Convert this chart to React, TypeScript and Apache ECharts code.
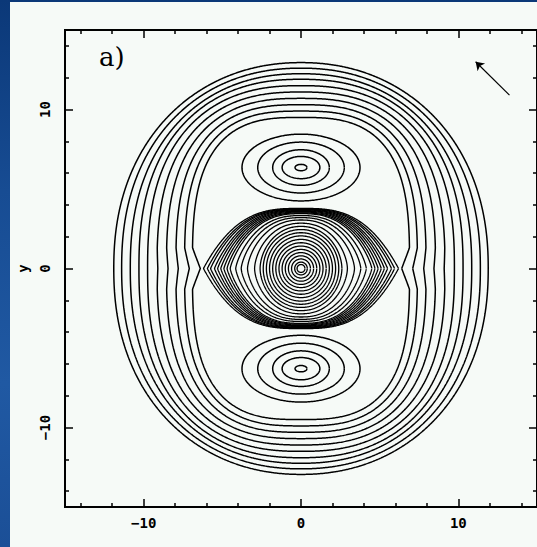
import React, { useEffect, useRef } from "react";
import * as echarts from "echarts";

// axes
const axisMin = -15;
const axisMax = 15;
const majorTicks = [-10, 0, 10];
const minorTicks = [-14, -12, -8, -6, -4, -2, 2, 4, 6, 8, 12, 14];
const tickLabels = [-10, 0, 10];

// outer ring contours (half-width at y=0, half-height at x=0, shape exponents, inner notch at y=0)
const ringHalfHeight = [12.95, 12.6, 12.25, 11.9, 11.5, 11.1, 10.7, 10.3, 9.9, 9.5];
const ringHalfWidth = [11.9, 11.4, 10.85, 10.3, 9.75, 9.15, 8.55, 7.95, 7.4, 6.9];
const ringExpX = [2.1, 2.15, 2.2, 2.3, 2.4, 2.5, 2.6, 2.7, 2.8, 2.9];
const ringExpY = [2.2, 2.25, 2.3, 2.4, 2.5, 2.6, 2.7, 2.8, 2.9, 3.0];
const ringNotch = [0, 0, 0, 0, 0, 0.05, 0.1, 0.15, 0.3, 0.5];

// the two off-centre lobes
const lobeCentreY = [6.35, -6.3];
const lobeHalfWidth = [3.75, 2.75, 1.8, 1.2, 0.38];
const lobeHalfHeight = [2.1, 1.6, 1.12, 0.7, 0.2];

// central lens ("eye") contours
const eyeHalfWidth = [6.2, 5.95, 5.75, 5.5, 5.3, 5.1, 4.9, 4.7, 4.5, 4.15, 3.8, 3.4, 2.95, 2.6, 2.4, 2.2, 2.0, 1.8, 1.6, 1.4, 1.2, 1.0, 0.8, 0.6, 0.4, 0.25];
const eyeHalfHeight = [3.78, 3.75, 3.72, 3.68, 3.64, 3.6, 3.55, 3.5, 3.45, 3.33, 3.2, 3.05, 2.85, 2.65, 2.45, 2.25, 2.05, 1.83, 1.62, 1.41, 1.2, 1.0, 0.8, 0.6, 0.4, 0.25];
const eyeTip = [1, 0.95, 0.9, 0.85, 0.8, 0.75, 0.7, 0.65, 0.6, 0.5, 0.4, 0.3, 0.2, 0.1, 0, 0, 0, 0, 0, 0, 0, 0, 0, 0, 0, 0];

// arrow (tail -> head)
const arrowTail = [13.25, 10.9];
const arrowHead = [11.1, 13.0];

const panelLabel = "a)";
const yName = "y";

function superCurve(
  cx: number,
  cy: number,
  A: number,
  B: number,
  ax: number,
  by: number,
  notch = 0,
  notchWidth = 1.3,
  n = 1440
) {
  const pts: number[][] = [];
  for (let i = 0; i <= n; i++) {
    const t = (i / n) * 2 * Math.PI;
    const c = Math.cos(t);
    const s = Math.sin(t);
    let x = A * Math.sign(c) * Math.pow(Math.abs(c), ax);
    const y = B * Math.sign(s) * Math.pow(Math.abs(s), by);
    if (notch > 0) {
      const sx = c >= 0 ? 1 : -1;
      x -= sx * notch * Math.max(0, 1 - Math.abs(y) / notchWidth);
    }
    pts.push([cx + x, cy + y]);
  }
  return pts;
}

function lineSeries(data: number[][], width: number) {
  return {
    type: "line",
    xAxisIndex: 0,
    yAxisIndex: 0,
    data,
    showSymbol: false,
    symbol: "none",
    silent: true,
    smooth: false,
    lineStyle: { color: "#000", width },
    z: 3,
  };
}

const fmt = (v: number) => (v < 0 ? "\u2212" + Math.abs(v) : String(v));

function xAxisDef(position: string, ticks: number[], len: number, labels: boolean) {
  return {
    type: "value",
    position,
    min: axisMin,
    max: axisMax,
    axisLine: { show: true, onZero: false, lineStyle: { color: "#000", width: 2 } },
    axisTick: { show: true, inside: true, length: len, customValues: ticks, lineStyle: { color: "#000", width: 1.5 } },
    axisLabel: labels
      ? {
          show: true,
          customValues: tickLabels,
          formatter: fmt,
          margin: 9,
          color: "#000",
          fontFamily: "DejaVu Sans Mono",
          fontWeight: "bold",
          fontSize: 14,
        }
      : { show: false },
    splitLine: { show: false },
  };
}

function yAxisDef(position: string, ticks: number[], len: number, labels: boolean) {
  return {
    type: "value",
    position,
    min: axisMin,
    max: axisMax,
    name: labels ? yName : "",
    nameLocation: "middle",
    nameRotate: 90,
    nameGap: 26,
    nameTextStyle: { color: "#000", fontFamily: "DejaVu Sans Mono", fontWeight: "bold", fontSize: 14 },
    axisLine: { show: true, onZero: false, lineStyle: { color: "#000", width: 2 } },
    axisTick: { show: true, inside: true, length: len, customValues: ticks, lineStyle: { color: "#000", width: 1.5 } },
    axisLabel: labels
      ? {
          show: true,
          customValues: tickLabels,
          formatter: fmt,
          rotate: 90,
          margin: 13,
          color: "#000",
          fontFamily: "DejaVu Sans Mono",
          fontWeight: "bold",
          fontSize: 14,
        }
      : { show: false },
    splitLine: { show: false },
  };
}

export default function App() {
  const ref = useRef<HTMLDivElement>(null);
  useEffect(() => {
    if (!ref.current) return;
    const chart = echarts.init(ref.current, null, { renderer: "svg" });

    const series: any[] = [];
    ringHalfWidth.forEach((w, i) => {
      series.push(
        lineSeries(
          superCurve(0, 0, w, ringHalfHeight[i], 2 / ringExpX[i], 2 / ringExpY[i], ringNotch[i]),
          1.5
        )
      );
    });
    lobeCentreY.forEach((cy) => {
      lobeHalfWidth.forEach((w, i) => {
        series.push(lineSeries(superCurve(0, cy, w, lobeHalfHeight[i], 1, 1, 0, 1, 720), 1.5));
      });
    });
    eyeHalfWidth.forEach((w, i) => {
      const t = eyeTip[i];
      series.push(lineSeries(superCurve(0, 0, w, eyeHalfHeight[i], 2 / (2 + t), 1 + t, 0, 1, 900), 1.3));
    });
    series.push({
      type: "lines",
      coordinateSystem: "cartesian2d",
      xAxisIndex: 0,
      yAxisIndex: 0,
      silent: true,
      symbol: ["none", "arrow"],
      symbolSize: 8,
      lineStyle: { color: "#000", width: 1.2, opacity: 1 },
      data: [{ coords: [arrowTail, arrowHead] }],
      z: 4,
    });

    chart.setOption({
      animation: false,
      backgroundColor: "transparent",
      grid: { left: 65, top: 30, right: -4, bottom: 40, containLabel: false },
      xAxis: [
        xAxisDef("bottom", majorTicks, 8, true),
        xAxisDef("bottom", minorTicks, 4, false),
        xAxisDef("top", majorTicks, 8, false),
        xAxisDef("top", minorTicks, 4, false),
      ],
      yAxis: [
        yAxisDef("left", majorTicks, 8, true),
        yAxisDef("left", minorTicks, 4, false),
        yAxisDef("right", majorTicks, 8, false),
        yAxisDef("right", minorTicks, 4, false),
      ],
      graphic: [
        {
          type: "rect",
          silent: true,
          z: -10,
          shape: { x: 10, y: 2, width: 527, height: 545 },
          style: { fill: "#f6faf7" },
        },
        {
          type: "text",
          silent: true,
          z: 10,
          x: 99,
          y: 57,
          style: {
            text: panelLabel,
            fill: "#000",
            font: "26px 'DejaVu Serif'",
            textAlign: "left",
            textVerticalAlign: "middle",
          },
        },
      ],
      series,
    });
    return () => chart.dispose();
  }, []);

  return (
    <div
      style={{
        position: "fixed",
        left: 0,
        top: 0,
        width: 537,
        height: 547,
        background: "linear-gradient(180deg, #0b3878 0%, #174c93 35%, #2059a3 70%, #1b4f97 100%)",
      }}
    >
      <div ref={ref} style={{ width: 537, height: 547 }} />
    </div>
  );
}
